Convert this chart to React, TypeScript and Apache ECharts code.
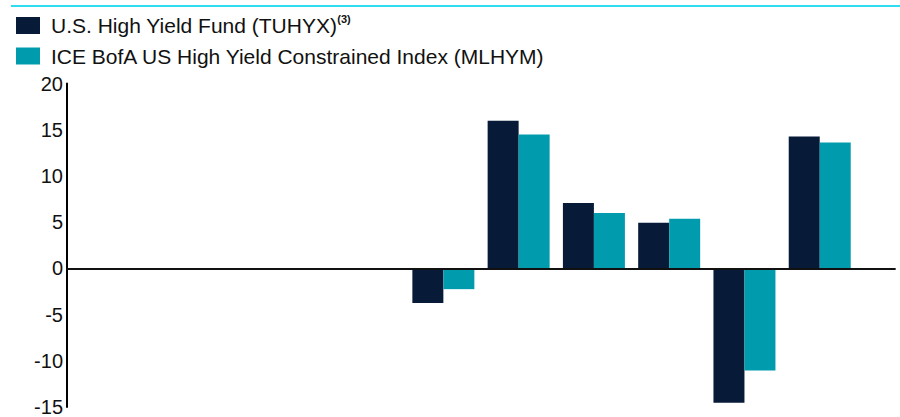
import React, { useEffect, useRef } from "react";
import * as echarts from "echarts";

const categories = ["2013", "2014", "2015", "2016", "2017", "2018", "2019", "2020", "2021", "2022", "2023", "2024"];
const fundName = "U.S. High Yield Fund (TUHYX)";
const indexName = "ICE BofA US High Yield Constrained Index (MLHYM)";
const fundValues: (number | null)[] = [null, null, null, null, null, -3.75, 15.98, 7.08, 4.93, -14.55, 14.26, null];
const indexValues: (number | null)[] = [null, null, null, null, null, -2.25, 14.48, 6.0, 5.36, -11.05, 13.62, null];
const yTicks = { min: -15, max: 20, interval: 5 };

const DARK = "#071a38";
const TEAL = "#009bad";
const FONT = "'Liberation Sans', Arial, sans-serif";

export default function App() {
  const ref = useRef<HTMLDivElement>(null);
  useEffect(() => {
    if (!ref.current) return;
    const chart = echarts.init(ref.current, null, { renderer: "svg" });
    chart.setOption({
      animation: false,
      textStyle: { fontFamily: FONT },
      graphic: [
        {
          type: "line",
          shape: { x1: 11, y1: 6, x2: 900, y2: 6 },
          style: { stroke: "#30ddf0", lineWidth: 2 },
        },
      ],
      legend: {
        orient: "vertical",
        left: 11,
        top: 8.5,
        itemWidth: 24,
        itemHeight: 17,
        itemGap: 6.5,
        icon: "rect",
        data: [fundName, indexName],
        formatter: (name: string) =>
          name === fundName ? `{a|${name}}{sup|(3)}` : `{a|${name}}`,
        textStyle: {
          color: "#111",
          fontFamily: FONT,
          fontSize: 21,
          lineHeight: 24,
          rich: {
            a: { fontSize: 21, lineHeight: 24, color: "#111", fontFamily: FONT, padding: [0, 0, 0, 6] },
            sup: { fontSize: 11, lineHeight: 12, color: "#111", fontFamily: FONT, fontWeight: "bold", verticalAlign: "top" },
          },
        },
      },
      grid: { left: 67, right: 5, top: 83.5, bottom: 7, containLabel: false },
      xAxis: {
        type: "category",
        data: categories,
        boundaryGap: false,
        z: 5,
        axisLine: { onZero: true, lineStyle: { color: "#111", width: 1.8 } },
        axisTick: { show: false },
        axisLabel: { show: false },
        splitLine: { show: false },
      },
      yAxis: {
        type: "value",
        min: yTicks.min,
        max: yTicks.max,
        interval: yTicks.interval,
        axisLine: { show: true, lineStyle: { color: "#000", width: 2 } },
        axisTick: { show: false },
        splitLine: { show: false },
        axisLabel: { color: "#111", fontSize: 20, fontFamily: FONT, margin: 4 },
      },
      series: [
        {
          name: fundName,
          type: "bar",
          data: fundValues,
          barWidth: 31,
          barGap: "0%",
          itemStyle: { color: DARK },
        },
        {
          name: indexName,
          type: "bar",
          data: indexValues,
          barWidth: 31,
          barGap: "0%",
          itemStyle: { color: TEAL },
        },
      ],
    });
    return () => chart.dispose();
  }, []);
  return (
    <div
      ref={ref}
      style={{ position: "fixed", left: 0, top: 0, width: 900, height: 417, background: "#fff" }}
    />
  );
}
